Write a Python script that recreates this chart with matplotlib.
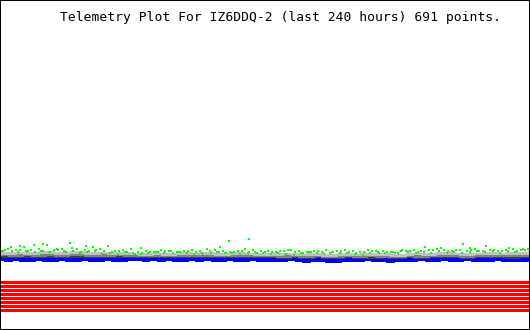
import matplotlib
matplotlib.use("Agg")
import matplotlib.pyplot as plt
import numpy as np

title = "Telemetry Plot For IZ6DDQ-2 (last 240 hours) 691 points."
n_points = 691

# analog channels, one reading every 10 samples (height above bottom edge)
green = [79, 81, 80, 83, 80, 81, 85, 80, 81, 87, 81, 80, 83, 81, 84, 79, 80, 81,
         78, 79, 78, 80, 79, 78, 79, 80, 79, 81, 80, 79, 78, 79, 81, 80, 79, 79,
         78, 79, 80, 79, 78, 79, 78, 77, 79, 80, 79, 78, 80, 79, 79, 78, 77,
         79, 80, 79, 80, 81, 80, 79, 80, 79, 81, 79, 80, 79, 80, 81, 80, 81]
green_spike_idx = [25, 55, 112, 183, 287, 299, 324, 614]
green_spike_val = [84, 86, 84, 82, 83, 89, 91, 82]

light_gray = [77, 76, 77, 77, 76, 77, 78, 77, 76, 77, 78, 77, 76, 77, 77, 76, 77, 76,
              76, 75, 76, 76, 75, 76, 77, 76, 76, 77, 76, 75, 76, 77, 76, 76, 75, 76,
              75, 76, 76, 75, 75, 76, 75, 74, 75, 76, 75, 75, 76, 75, 76, 75, 74,
              75, 76, 76, 75, 76, 77, 76, 76, 75, 76, 76, 77, 76, 76, 77, 76, 77]
gray = [75, 75, 74, 75, 75, 74, 75, 75, 74, 75, 75, 75, 74, 75, 74, 75, 75, 74,
        74, 74, 75, 74, 74, 74, 75, 74, 74, 75, 74, 74, 74, 75, 74, 74, 74, 74,
        74, 73, 74, 74, 73, 74, 74, 73, 73, 74, 74, 73, 74, 74, 73, 74, 73,
        74, 74, 73, 74, 74, 75, 74, 74, 73, 74, 74, 75, 74, 74, 74, 74, 75]
dark_gray = [73, 73, 74, 73, 73, 73, 74, 73, 73, 73, 74, 73, 73, 73, 73, 74, 73, 73,
             73, 73, 73, 74, 73, 73, 73, 73, 74, 73, 73, 73, 73, 73, 74, 73, 73, 73,
             73, 72, 73, 73, 72, 73, 73, 72, 72, 73, 73, 72, 73, 72, 73, 73, 72,
             73, 73, 72, 73, 73, 73, 73, 73, 72, 73, 73, 73, 73, 73, 72, 73, 73]
red = [72, 72, 71, 72, 72, 71, 72, 72, 72, 71, 72, 72, 72, 71, 72, 72, 71, 72,
       72, 72, 71, 72, 72, 72, 72, 73, 73, 72, 73, 72, 72, 72, 71, 72, 72, 72,
       72, 71, 72, 72, 71, 72, 72, 71, 71, 72, 72, 71, 72, 71, 72, 72, 71,
       72, 72, 71, 72, 72, 72, 72, 71, 72, 73, 72, 72, 72, 72, 71, 72, 72]
blue = [71, 70, 71, 70, 70, 71, 70, 70, 71, 70, 70, 71, 70, 70, 71, 70, 70, 71,
        71, 70, 71, 70, 71, 70, 70, 71, 70, 71, 70, 70, 71, 70, 70, 71, 70, 70,
        70, 70, 71, 70, 69, 70, 70, 69, 69, 70, 70, 70, 71, 70, 70, 69, 70,
        70, 70, 71, 70, 70, 71, 70, 70, 71, 70, 70, 70, 71, 70, 70, 70, 70]

# digital channels: all 8 bits set for the whole period
bits = [1, 1, 1, 1, 1, 1, 1, 1]

idx = np.arange(0, n_points, 10)

fig = plt.figure(figsize=(5.3, 3.3), dpi=100)
ax = fig.add_axes([0, 0, 1, 1])

px = 72 / 100  # one pixel in points

for i, b in enumerate(bits):
    if b:
        ax.plot([0, n_points - 1], [48.5 - 4 * i] * 2, color="red",
                lw=3 * px, solid_capstyle="butt", antialiased=False)

ax.plot(idx, red, color="red", lw=2 * px, antialiased=False)
ax.plot(idx, blue, color="blue", lw=3 * px, antialiased=False)
ax.plot(idx, dark_gray, color="#404040", lw=2 * px, antialiased=False)
ax.plot(idx, gray, color="#808080", lw=2 * px, antialiased=False)
ax.plot(idx, light_gray, color="#c0c0c0", lw=2 * px, antialiased=False)
ax.plot(idx, green, color="#00ff00", lw=0, marker="s", ms=2 * px, mew=0,
        antialiased=False)
ax.plot(idx + 5, [v - 1 for v in green[::-1]], color="#00ff00", lw=0, marker="s",
        ms=2 * px, mew=0, antialiased=False)
ax.plot(idx + 3, [v - 2 for v in green[5:] + green[:5]], color="#00ff00", lw=0,
        marker="s", ms=2 * px, mew=0, antialiased=False)
ax.plot(green_spike_idx, green_spike_val, color="#00ff00", lw=0, marker="s",
        ms=2 * px, mew=0, antialiased=False)

ax.set_xlim(-1, n_points + 1)
ax.set_ylim(0, 330)
ax.set_xticks([])
ax.set_yticks([])
for s in ax.spines.values():
    s.set_color("black")
    s.set_linewidth(2 * px)

fig.text(60 / 530, 1 - 18 / 330, title, family="DejaVu Sans Mono", fontsize=9.4,
         va="center", ha="left", color="black")

fig.savefig("out.png", dpi=100)
